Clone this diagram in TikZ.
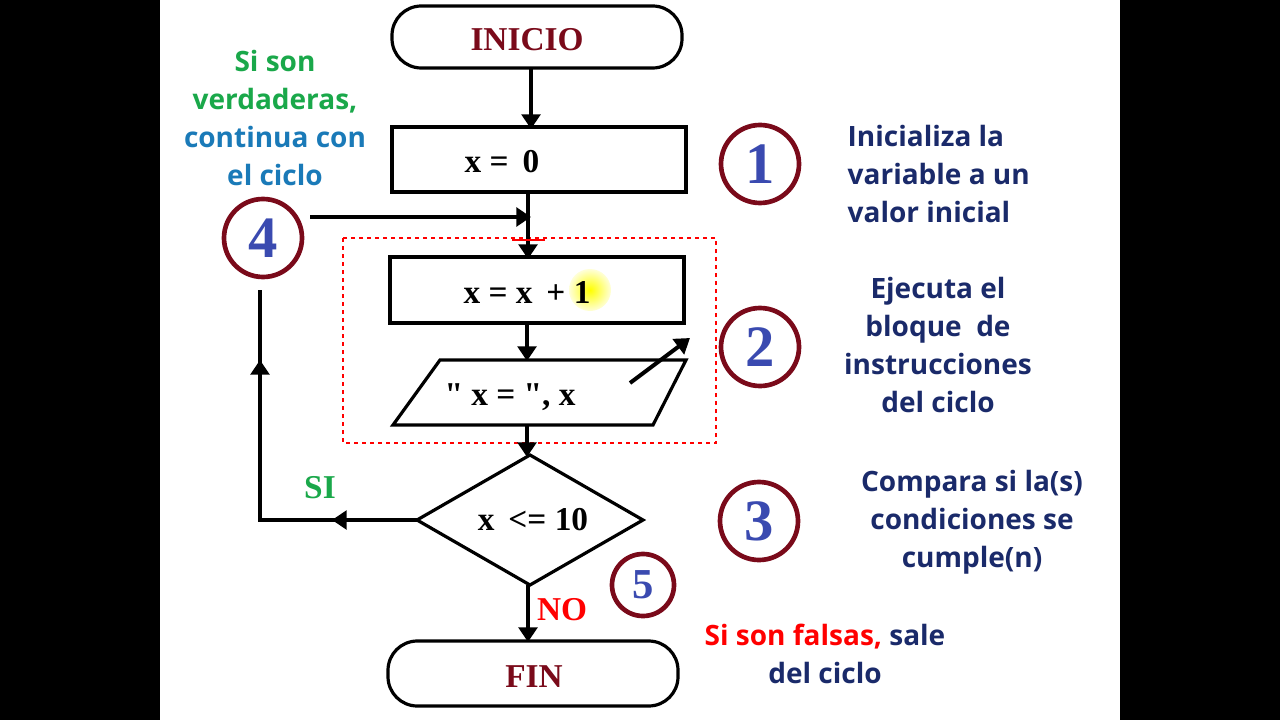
\documentclass[tikz,border=0pt]{standalone}
\usepackage{fontspec}
\setmainfont{Liberation Serif}
\setsansfont{Open Sans}
\usetikzlibrary{arrows.meta}
\definecolor{dred}{HTML}{7A0A1A}
\definecolor{navy}{HTML}{1A2A6A}
\definecolor{nblue}{HTML}{3A4AB0}
\definecolor{sgreen}{HTML}{1AA84A}
\definecolor{sblue}{HTML}{1A7AB8}
\begin{document}
\begin{tikzpicture}[x=0.75pt,y=-0.75pt,
  box/.style={draw,line width=2.4pt},
  term/.style={draw,line width=2.4pt,rounded corners=22pt},
  arr/.style={line width=3pt,-{Triangle[length=11pt,width=14pt]}},
  ln/.style={line width=3pt},
  num/.style={draw=dred,line width=3.5pt,circle,text=nblue,font=\bfseries\fontsize{44}{44}\selectfont,inner sep=0pt},
  st/.style={font=\bfseries\fontsize{25}{25}\selectfont},
  side/.style={font=\sffamily\bfseries\fontsize{21}{28.5}\selectfont,text=navy,align=center}]
\useasboundingbox (0,0) rectangle (1280,720);
\fill[white] (0,0) rectangle (1280,720);
\fill[black] (0,0) rectangle (160,720);
\fill[black] (1120,0) rectangle (1280,720);
% shapes
\draw[term] (392,6) rectangle (682,68);
\node[st,text=dred] (ini) at (527,40) {INICIO};
\draw[box] (392,127) rectangle (686,192);
\node[st] (b1) at (502,162) {x = \,0};
\shade[inner color=yellow,outer color=yellow!15] (590,290) circle (21);
\draw[box] (390,257) rectangle (684,323);
\node[st] (b2) at (527,292) {x = x \,+ 1};
\draw[box] (393,425) -- (440,360) -- (686,360) -- (653,425) -- cycle;
\node[st] (io) at (510,397) {\textquotedbl{} x = \textquotedbl, x};
\draw[red,dashed,line width=1.5pt] (343,238) rectangle (716,443);
\draw[line width=2.4pt] (417,520) -- (530,455) -- (643,520) -- (530,585) -- cycle;
\node[st] (cond) at (533,520) {x \,<= 10};
\draw[term] (388,641) rectangle (678,706);
\node[st,text=dred] (fin) at (534,677) {FIN};
% connectors
\draw[arr] (531,68) -- (531,129);
\draw[ln] (528,192) -- (528,240);
\draw[arr] (528,238) -- (528,259);
\draw[red,line width=1.5pt] (512,240) -- (545,240);
\draw[arr] (310,217) -- (531,217);
\draw[arr] (527,323) -- (527,361);
\draw[arr] (527,425) -- (527,457);
\draw[arr] (630,383) -- (690,338);
\draw[ln] (417,520) -- (260,520) -- (260,290);
\draw[arr] (417,520) -- (332,520);
\draw[arr] (260,520) -- (260,360);
\draw[arr] (528,585) -- (528,642);
\node[st,text=sgreen] at (320,488) {SI};
\node[st,text=red] at (562,610) {NO};
% circles
\node[num,minimum size=78pt*0.75] (c1) at (760,164) {1};
\node[num,minimum size=78pt*0.75] (c2) at (760,347) {2};
\node[num,minimum size=78pt*0.75] (c3) at (759,521) {3};
\node[num,minimum size=78pt*0.75] (c4) at (263,238) {4};
\node[num,minimum size=62pt*0.75,font=\bfseries\fontsize{32}{32}\selectfont] (c5) at (643,585) {5};
% texts
\node[side,align=left,anchor=west] at (843,174) {Inicializa la\\variable a un\\valor inicial};
\node[side] at (938,345) {Ejecuta el\\bloque \ de\\instrucciones\\del ciclo};
\node[side] at (972,522) {Compara si la(s)\\condiciones se\\cumple(n)};
\node[side] at (275,118) {\textcolor{sgreen}{Si son}\\\textcolor{sgreen}{verdaderas,}\\\textcolor{sblue}{continua con}\\\textcolor{sblue}{el ciclo}};
\node[side] at (825,654) {\textcolor{red}{Si son falsas,} sale\\del ciclo};
\end{tikzpicture}
\end{document}
